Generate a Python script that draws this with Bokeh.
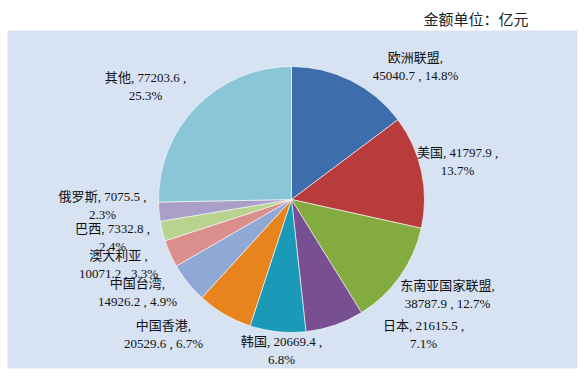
import math
from bokeh.plotting import figure
from bokeh.models import ColumnDataSource
from bokeh.core.properties import value
from bokeh.embed import file_html
from bokeh.resources import INLINE

# ---- data ----
names = ["欧洲联盟", "美国", "东南亚国家联盟", "日本", "韩国", "中国香港",
         "中国台湾", "澳大利亚", "巴西", "俄罗斯", "其他"]
values = [45040.7, 41797.9, 38787.9, 21615.5, 20669.4, 20529.6,
          14926.2, 10071.2, 7332.8, 7075.5, 77203.6]
unit_note = "金额单位：亿元"

# ---- styles / layout ----
colors = ["#3D6DAC", "#B83C3C", "#84AB3F", "#784F90", "#1A9AB6", "#E8841D",
          "#90A8D5", "#DA8F8C", "#B7D38E", "#AA9FC6", "#8AC6D8"]
# label wrap style: 1 -> break after the name, 0 -> break after the value
wrap_after_name = [1, 0, 1, 0, 0, 1, 1, 1, 0, 0, 0]
name_sep = [",", ",", ",", ",", ",", ",", ",", " ,", ",", ",", ","]
# label block offsets from pie centre (pixels, y up)
lab_dx = [124, 166, 156, 132, -10, -128, -154, -173, -179, -189, -146]
lab_dy = [133, 38, -95, -135, -151, -135, -93, -65, -38, -6, 113]

W, H = 584, 375
FL, FR, FT = 7, 7, 30
FW, FH = W - FL - FR, 338
cx, cy, R = 284, 169, 133

total = sum(values)
starts, ends, texts = [], [], []
acc = 0.0
for nm, v, w, sep in zip(names, values, wrap_after_name, name_sep):
    a0 = math.pi / 2 - 2 * math.pi * acc / total
    acc += v
    a1 = math.pi / 2 - 2 * math.pi * acc / total
    starts.append(a1)
    ends.append(a0)
    pct = f"{100 * v / total:.1f}%"
    if w:
        texts.append(f"{nm}{sep}\n{v} , {pct}")
    else:
        texts.append(f"{nm}{sep} {v} ,\n{pct}")

src = ColumnDataSource(dict(
    start=starts, end=ends, color=colors, text=texts,
    x=[cx + d for d in lab_dx], y=[cy + d for d in lab_dy],
))

p = figure(width=W, height=H, output_backend="svg", toolbar_location=None,
           x_range=(0, FW), y_range=(0, FH), min_border_left=FL,
           min_border_right=FR, min_border_top=FT,
           min_border_bottom=H - FT - FH)
p.axis.visible = False
p.grid.visible = False
p.outline_line_color = None
p.background_fill_color = "#D7E2F3"
p.border_fill_color = "white"

p.title.text = unit_note
p.title.align = "right"
p.title.offset = 49
p.title.text_font_size = "15px"
p.title.text_font_style = "normal"
p.title.text_color = "#222222"
p.title.text_font = "'Liberation Serif', 'Noto Sans CJK SC'"
p.title.standoff = 6

p.wedge(x=cx, y=cy, radius=R, start_angle="start", end_angle="end",
        direction="anticlock", fill_color="color", line_color="white",
        line_width=0.6, source=src)

p.text(x="x", y="y", text="text", source=src, text_align="center",
       text_baseline="middle", text_font_size="13px", text_color="#111111",
       text_line_height=1.2,
       text_font=value("'Liberation Serif', 'Noto Sans CJK SC'"))

open("out.html", "w").write(file_html(p, INLINE))
